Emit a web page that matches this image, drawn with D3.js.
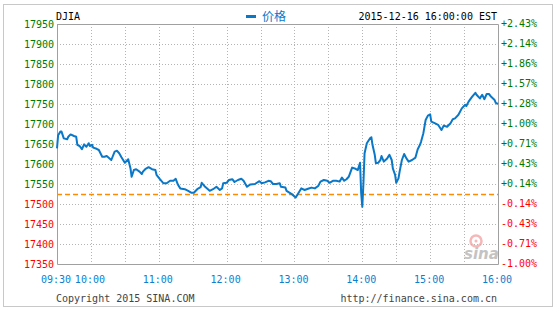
<!DOCTYPE html>
<html lang="zh">
<head>
<meta charset="UTF-8">
<title>DJIA</title>
<script src="https://d3js.org/d3.v7.min.js"></script>
<style>
  body { margin: 0; background: #fff; }
  svg text { font-family: "DejaVu Sans Mono", monospace; font-size: 10px; }
</style>
</head>
<body>
<svg id="chart" width="557" height="309"></svg>
<script>
// intraday prints (time, index level)
var times = ["09:30","09:31","09:33","09:34","09:36","09:39","09:40","09:42","09:45","09:47",
  "09:48","09:50","09:52","09:54","09:56","09:58","09:59","10:01","10:02","10:05",
  "10:07","10:10","10:12","10:14","10:18","10:21","10:23","10:25","10:27","10:30",
  "10:33","10:35","10:36","10:38","10:40","10:43","10:45","10:46","10:48","10:51",
  "10:54","10:57","10:58","11:01","11:04","11:07","11:10","11:13","11:15","11:17",
  "11:19","11:23","11:26","11:29","11:31","11:34","11:37","11:38","11:41","11:45",
  "11:48","11:51","11:54","11:56","11:57","12:00","12:02","12:05","12:07","12:10",
  "12:13","12:15","12:18","12:21","12:25","12:29","12:31","12:34","12:37","12:39",
  "12:41","12:44","12:47","12:48","12:52","12:53","12:58","13:01","13:03","13:06",
  "13:09","13:12","13:15","13:18","13:21","13:23","13:26","13:29","13:31","13:34",
  "13:37","13:40","13:42","13:44","13:46","13:48","13:51","13:54","13:56","13:58",
  "13:59","14:00","14:01","14:02","14:04","14:07","14:08","14:09","14:11","14:12",
  "14:14","14:16","14:17","14:19","14:22","14:24","14:26","14:27","14:29","14:30",
  "14:32","14:33","14:35","14:37","14:39","14:41","14:44","14:47","14:49","14:51",
  "14:52","14:54","14:56","14:58","15:00","15:01","15:04","15:07","15:10","15:12",
  "15:15","15:18","15:20","15:22","15:25","15:28","15:31","15:32","15:34","15:37",
  "15:40","15:41","15:44","15:46","15:48","15:50","15:52","15:54","15:57","15:58",
  "16:00"];
var prices = [17639,17672,17681,17681,17664,17662,17668,17674,17670,17668,
  17648,17645,17637,17649,17643,17652,17645,17648,17641,17638,
  17635,17618,17618,17620,17610,17631,17633,17627,17617,17603,
  17612,17589,17568,17585,17587,17581,17575,17581,17587,17592,
  17587,17585,17573,17562,17552,17552,17558,17558,17563,17548,
  17539,17537,17533,17528,17528,17537,17542,17553,17543,17533,
  17537,17543,17535,17539,17552,17553,17560,17562,17555,17560,
  17563,17558,17543,17549,17550,17557,17552,17554,17558,17557,
  17550,17550,17552,17543,17541,17533,17524,17516,17525,17539,
  17535,17538,17541,17539,17545,17556,17560,17558,17553,17558,
  17558,17556,17566,17558,17562,17568,17591,17588,17585,17603,
  17527,17493,17552,17627,17652,17665,17667,17648,17623,17602,
  17603,17610,17620,17606,17614,17623,17610,17589,17573,17553,
  17564,17581,17610,17625,17614,17606,17610,17616,17637,17648,
  17656,17677,17710,17721,17724,17706,17702,17698,17685,17696,
  17693,17702,17712,17714,17723,17739,17748,17745,17756,17768,
  17778,17773,17764,17773,17762,17775,17775,17768,17760,17753,
  17750];
var prevClose = 17524.9;
var levelTicks = [17350,17400,17450,17500,17550,17600,17650,17700,17750,17800,17850,17900,17950];
var pctLabels = ["-1.00%","-0.71%","-0.43%","-0.14%","+0.14%","+0.43%","+0.71%","+1.00%",
  "+1.28%","+1.57%","+1.86%","+2.14%","+2.43%"];
var gridTimes = ["09:30","10:00","10:30","11:00","11:30","12:00","12:30","13:00","13:30",
  "14:00","14:30","15:00","15:30","16:00"];
var timeLabels = ["09:30","10:00","11:00","12:00","13:00","14:00","15:00","16:00"];

var svg = d3.select("#chart");
var plotL = 57, plotR = 498, plotT = 24, plotB = 264;
var parse = d3.timeParse("%H:%M");

var x = d3.scaleTime()
  .domain([parse("09:30"), parse("16:00")])
  .range([plotL, plotR]);
var y = d3.scaleLinear()
  .domain([17350, 17950])
  .range([plotB, plotT]);

var data = times.map(function(t, i) { return { t: parse(t), v: prices[i] }; });

// outer frame
svg.append("rect")
  .attr("x", 3.5).attr("y", 4.5).attr("width", 549).attr("height", 302)
  .attr("fill", "none").attr("stroke", "#c8c8c8");

// grid
svg.append("g")
  .selectAll("line")
  .data(levelTicks.slice(1, -1))
  .enter().append("line")
    .attr("x1", plotL).attr("x2", plotR)
    .attr("y1", function(d) { return Math.round(y(d)) + 0.5; })
    .attr("y2", function(d) { return Math.round(y(d)) + 0.5; })
    .attr("stroke", "#b4b4b4").attr("stroke-dasharray", "1,2");
svg.append("g")
  .selectAll("line")
  .data(gridTimes.slice(1, -1))
  .enter().append("line")
    .attr("x1", function(d) { return Math.round(x(parse(d))) + 0.5; })
    .attr("x2", function(d) { return Math.round(x(parse(d))) + 0.5; })
    .attr("y1", plotT).attr("y2", plotB)
    .attr("stroke", "#b4b4b4").attr("stroke-dasharray", "1,2");

// sina watermark
var wm = svg.append("g").attr("opacity", 0.75);
wm.append("circle").attr("cx", 476).attr("cy", 241).attr("r", 5.5)
  .attr("fill", "none").attr("stroke", "#f2a0a0").attr("stroke-width", 2.5);
wm.append("circle").attr("cx", 476).attr("cy", 241).attr("r", 1.5).attr("fill", "#f2a0a0");
wm.append("text").attr("x", 464).attr("y", 259)
  .style("font-family", "'DejaVu Sans', sans-serif")
  .style("font-size", "15px").style("font-weight", "bold").style("font-style", "italic")
  .attr("fill", "#b0b0b0").text("sina");

// plot frame
svg.append("path")
  .attr("d", "M" + (plotL + 0.5) + "," + plotT + "V" + (plotB + 0.5) + "H" + (plotR + 0.5) + "V" + (plotT + 0.5) + "H" + plotL)
  .attr("fill", "none").attr("stroke", "#a0a0a0");

// previous close
svg.append("line")
  .attr("x1", plotL).attr("x2", plotR)
  .attr("y1", Math.round(y(prevClose)) + 0.5).attr("y2", Math.round(y(prevClose)) + 0.5)
  .attr("stroke", "#ff8c00").attr("stroke-width", 1.5).attr("stroke-dasharray", "5,3");

// price line
svg.append("path")
  .datum(data)
  .attr("fill", "none")
  .attr("stroke", "#0a78c8")
  .attr("stroke-width", 2)
  .attr("stroke-linejoin", "round")
  .attr("d", d3.line()
    .x(function(d) { return x(d.t); })
    .y(function(d) { return y(d.v); }));

// left axis labels
svg.append("g")
  .selectAll("text")
  .data(levelTicks)
  .enter().append("text")
    .attr("x", 54)
    .attr("y", function(d) { return y(d) + 3.5; })
    .attr("text-anchor", "end")
    .attr("fill", function(d) { return d > prevClose ? "#007a00" : "#ff0000"; })
    .text(function(d) { return d; });

// right axis labels
svg.append("g")
  .selectAll("text")
  .data(pctLabels)
  .enter().append("text")
    .attr("x", 501)
    .attr("y", function(d, i) { return y(levelTicks[i]) + 3; })
    .attr("fill", function(d) { return d[0] === "+" ? "#007a00" : "#ff0000"; })
    .text(function(d) { return d; });

// time labels
svg.append("g")
  .selectAll("text")
  .data(timeLabels)
  .enter().append("text")
    .attr("x", function(d) { return x(parse(d)) - 1; })
    .attr("y", 283)
    .attr("text-anchor", "middle")
    .attr("fill", "#0a7fd0")
    .text(function(d) { return d; });

// header
svg.append("text").attr("x", 56).attr("y", 20).attr("fill", "#000").text("DJIA");
svg.append("text").attr("x", 497).attr("y", 20).attr("text-anchor", "end")
  .attr("fill", "#000").text("2015-12-16 16:00:00 EST");
svg.append("rect").attr("x", 246).attr("y", 15).attr("width", 10).attr("height", 3).attr("fill", "#0a78c8");
svg.append("text").attr("x", 262).attr("y", 21)
  .style("font-family", "'Noto Sans CJK SC', sans-serif").style("font-size", "12px")
  .attr("fill", "#0a78c8").text("价格");

// footer
svg.append("text").attr("x", 56).attr("y", 302).attr("fill", "#444").text("Copyright 2015 SINA.COM");
svg.append("text").attr("x", 497).attr("y", 302).attr("text-anchor", "end")
  .attr("fill", "#444").text("http://finance.sina.com.cn");
</script>
</body>
</html>
